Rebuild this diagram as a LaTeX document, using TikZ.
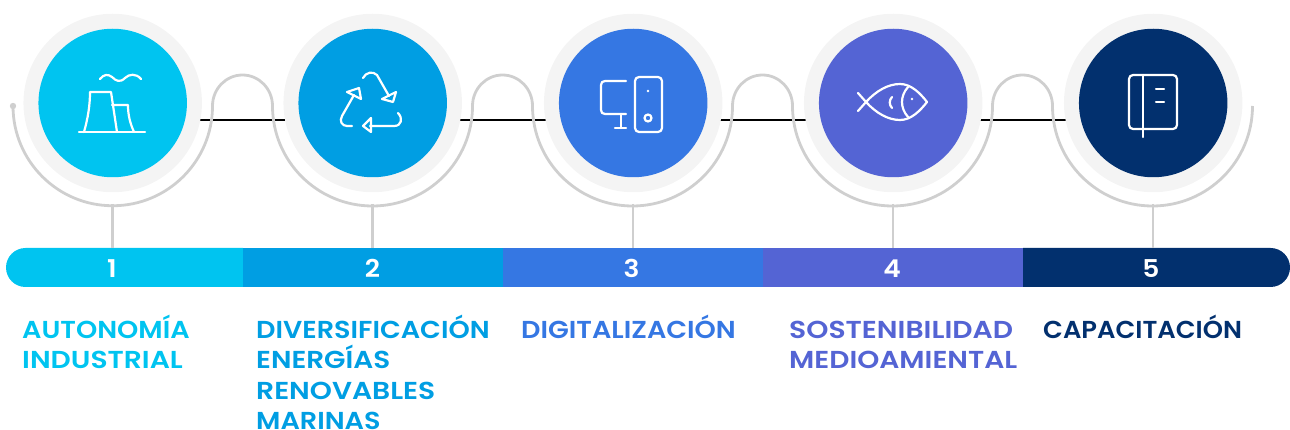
\documentclass[tikz,border=0pt]{standalone}
\usepackage{graphicx}
\usepackage{fontspec}
\setmainfont{Poppins}[UprightFont=* SemiBold,BoldFont=* SemiBold,FakeStretch=1.105]
\newfontfamily\numfont{Poppins}[UprightFont=* SemiBold,FakeStretch=1.08]
\definecolor{cA}{HTML}{00C4F0}
\definecolor{cB}{HTML}{009EE3}
\definecolor{cC}{HTML}{3577E3}
\definecolor{cD}{HTML}{5464D4}
\definecolor{cE}{HTML}{02306E}
\definecolor{ringc}{HTML}{F4F4F4}
\definecolor{arcc}{HTML}{CFCFCF}
\tikzset{
  x=1pt,y=-1pt,
  ringnode/.style={circle,fill=ringc,minimum size=178.5pt,inner sep=0pt},
  discnode/.style={circle,fill=#1,minimum size=148.5pt,inner sep=0pt},
  greyline/.style={draw=arcc,line width=2.8pt},
  blackline/.style={draw=black,line width=2.5pt},
  iconline/.style={draw=white,line width=2.2pt,line cap=round,line join=round},
  segnode/.style={fill=#1,minimum height=39pt,inner sep=0pt,outer sep=0pt},
  numlabel/.style={text=white,font=\numfont\fontsize{24.5}{24.5}\selectfont,inner sep=0pt,anchor=base},
  titlelabel/.style={text=#1,font=\fontsize{24.5}{30.5}\selectfont,align=left,inner sep=0pt,anchor=north west},
}
\newcommand{\firststrut}{\rule{0pt}{24pt}}
\newcommand{\widen}[2]{\scalebox{#1}[1]{#2}}
\begin{document}
\begin{tikzpicture}
\useasboundingbox (0,0) rectangle (1290,430);
% black connector lines, beneath the rings
\foreach \i/\xa/\xb in {1/200/286,2/460/546,3/720/806,4/980/1066}{
  \coordinate (ls\i) at (\xa,120);
  \coordinate (le\i) at (\xb,120);
  \draw[blackline] (ls\i) -- (le\i);
}
% rings and discs
\foreach \n/\x/\c in {1/112.7/cA,2/372.7/cB,3/633.2/cC,4/893.2/cD,5/1153.2/cE}{
  \node[ringnode] (ring\n) at (\x,103) {};
  \node[discnode=\c] (disc\n) at (\x,103) {};
}
% grey serpentine
\fill[arcc] (13,106) circle (3.2);
\draw[greyline] (13,106) arc[start angle=180,end angle=0,x radius=99.75,y radius=99.75]
  arc[start angle=180,end angle=0,x radius=30,y radius=-31]
  arc[start angle=180,end angle=0,x radius=100,y radius=100]
  arc[start angle=180,end angle=0,x radius=30,y radius=-31]
  arc[start angle=180,end angle=0,x radius=100,y radius=100]
  arc[start angle=180,end angle=0,x radius=30,y radius=-31]
  arc[start angle=180,end angle=0,x radius=100,y radius=100]
  arc[start angle=180,end angle=0,x radius=30,y radius=-31]
  arc[start angle=180,end angle=0,x radius=100,y radius=100];
% coloured bar
\fill[cA] (243,248) -- (25.5,248) arc[start angle=90,end angle=270,x radius=19.5,y radius=-19.5] -- (243,287) -- cycle;
\node[segnode=cB,minimum width=260pt] (seg2) at (373,267.5) {};
\node[segnode=cC,minimum width=260pt] (seg3) at (633,267.5) {};
\node[segnode=cD,minimum width=260pt] (seg4) at (893,267.5) {};
\fill[cE] (1023,248) -- (1270.5,248) arc[start angle=90,end angle=-90,x radius=19.5,y radius=-19.5] -- (1023,287) -- cycle;
% stems
\foreach \n/\x in {1/112.5,2/372.5,3/633,4/893,5/1153}{
  \coordinate (st\n) at (\x,204);
  \coordinate (sb\n) at (\x,248);
  \draw[greyline] (st\n) -- (sb\n);
}
% numbers
\node[numlabel] (n1) at (112,277.5) {1};
\node[numlabel] (n2) at (372.5,277.5) {2};
\node[numlabel] (n3) at (631.5,277.5) {3};
\node[numlabel] (n4) at (892,277.5) {4};
\node[numlabel] (n5) at (1151,277.5) {5};
% titles
\node[titlelabel=cA] (t1) at (22,314) {\firststrut AUTONOMÍA\\\widen{1.04}{INDUSTRIAL}};
\node[titlelabel=cB] (t2) at (256,314) {\firststrut DIVERSIFICACIÓN\\\widen{1.03}{ENERGÍAS}\\\widen{1.04}{RENOVABLES}\\MARINAS};
\node[titlelabel=cC] (t3) at (521,314) {\firststrut DIGITALIZACIÓN};
\node[titlelabel=cD] (t4) at (789,314) {\firststrut\widen{1.042}{SOSTENIBILIDAD}\\\widen{1.037}{MEDIOAMIENTAL}};
\node[titlelabel=cE] (t5) at (1043,314) {\firststrut\widen{0.952}{CAPACITACIÓN}};
% icon 1: power plant
\begin{scope}[iconline]
\draw (79,132) -- (145,132);
\draw (84,132) .. controls (88,118) and (90,105) .. (90,92) -- (111,92) -- (117,132);
\draw (112,105) -- (128,105) .. controls (128,115) and (130,123) .. (134,132);
\draw (100,79) .. controls (104,74) and (108,74) .. (112,77) .. controls (116,81) and (120,83) .. (125,78) .. controls (129,74) and (136,73) .. (141,79);
% icon 2: recycling
\draw (363,78) .. controls (366,72) and (373,71) .. (377,75) -- (389,96);
\draw (396,92) -- (382,99) -- (393,102) -- cycle;
\draw (398,113) .. controls (403,118) and (402,126) .. (394,126) -- (370,126);
\draw (363,126) -- (371,118) -- (371,132) -- cycle;
\draw (352,126) -- (347,126) .. controls (342,126) and (339,121) .. (342,116) -- (354,95);
\draw (347,92) -- (359,88) -- (361,99) -- cycle;
% icon 3: computer
\draw (626,81) -- (605,81) .. controls (602.5,81) and (601,82.5) .. (601,85) -- (601,110) .. controls (601,112.5) and (602.5,114) .. (605,114) -- (626,114);
\draw (621,114) -- (621,128);
\draw (615,128) -- (626,128);
\draw[rounded corners=4pt] (635,77) rectangle (662,132);
\fill[white] (648,91) circle (1.3);
\draw (648,118) circle (3.5);
% icon 4: fish
\draw (858,93) -- (866,102) .. controls (876,113) and (888,120) .. (900,120) .. controls (911,120) and (920,111) .. (927,102) .. controls (920,93) and (911,84) .. (900,84) .. controls (888,84) and (876,91) .. (866,102) -- (858,111);
\draw (908,87) .. controls (900,96) and (900,108) .. (908,117);
\draw (892,97) .. controls (889,100) and (889,105) .. (892,108);
\fill[white] (912,99) circle (1.4);
% icon 5: book
\draw[rounded corners=4pt] (1129,75) rectangle (1177,129);
\draw (1143,75) -- (1143,137);
\draw (1156,89) -- (1164,89);
\draw (1156,102) -- (1164,102);
\end{scope}
\end{tikzpicture}
\end{document}
